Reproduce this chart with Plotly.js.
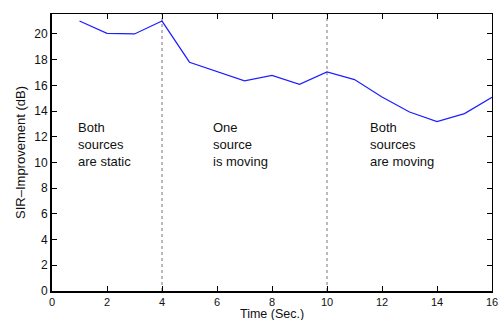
<!DOCTYPE html>
<html>
<head>
<meta charset="utf-8">
<script src="https://cdn.plot.ly/plotly-3.0.1.min.js"></script>
<style>html,body{margin:0;padding:0;background:#fff;}#chart{width:499px;height:320px;}</style>
</head>
<body>
<div id="chart"></div>
<script>
// Data
var timeSec = [1, 2, 3, 4, 5, 6, 7, 8, 9, 10, 11, 12, 13, 14, 15, 16];
var sirImprovement = [21.0, 20.05, 20.0, 21.0, 17.8, 17.1, 16.35, 16.78, 16.08, 17.05, 16.45, 15.1, 13.93, 13.18, 13.8, 15.07];
var phaseBoundaries = [4, 10];
var phaseLabels = [
  ["Both", "sources", "are static"],
  ["One", "source", "is moving"],
  ["Both", "sources", "are moving"]
];
var xTickVals = [0, 2, 4, 6, 8, 10, 12, 14, 16];
var yTickVals = [0, 2, 4, 6, 8, 10, 12, 14, 16, 18, 20];
var xTitle = "Time (Sec.)";
var yTitle = "SIR\u2013Improvement (dB)";

var FONT = "Liberation Sans, Arial, Helvetica, sans-serif";
var yMax = 21.55;

var traces = [
  {
    x: timeSec, y: sirImprovement, type: "scatter", mode: "lines",
    line: {color: "rgb(30,30,255)", width: 1.2},
    hoverinfo: "skip", showlegend: false
  },
  {
    x: [0, 16], y: [0, yMax], xaxis: "x2", yaxis: "y2", type: "scatter", mode: "markers",
    marker: {opacity: 0}, hoverinfo: "skip", showlegend: false
  }
];

var shapes = phaseBoundaries.map(function (b) {
  return {
    type: "line", xref: "x", yref: "y", x0: b, x1: b, y0: 0, y1: yMax,
    line: {color: "#777", width: 1, dash: "dot"}, layer: "below"
  };
});

var labelX = [0.86, 5.78, 11.5];
var annotations = phaseLabels.map(function (lines, i) {
  return {
    text: lines.join("<br>"), x: labelX[i], y: 11.38, xref: "x", yref: "y",
    xanchor: "left", yanchor: "middle", align: "left", showarrow: false,
    font: {family: FONT, size: 13, color: "#111"}
  };
});
annotations.push({
  text: xTitle, xref: "paper", yref: "paper", x: 0.5, y: 0,
  xanchor: "center", yanchor: "middle", yshift: -23, showarrow: false,
  borderpad: 0, font: {family: FONT, size: 12.5, color: "#111"}
});

var axisCommon = {
  showgrid: false, zeroline: false, ticks: "inside", ticklen: 5, tickwidth: 1,
  tickcolor: "#000", showline: true, linecolor: "#000",
  tickfont: {family: FONT, size: 12, color: "#111"}
};

var layout = {
  width: 499, height: 320,
  margin: {l: 52, r: 7, t: 14, b: 29},
  paper_bgcolor: "#fff", plot_bgcolor: "#fff",
  showlegend: false,
  xaxis: Object.assign({}, axisCommon, {
    range: [0, 16], tickvals: xTickVals, linewidth: 2,
    tickfont: {family: FONT, size: 11, color: "#111"}
  }),
  yaxis: Object.assign({}, axisCommon, {
    range: [0, yMax], tickvals: yTickVals, linewidth: 2,
    title: {text: yTitle, font: {family: FONT, size: 13, color: "#111"}, standoff: 6}
  }),
  xaxis2: Object.assign({}, axisCommon, {
    overlaying: "x", side: "top", range: [0, 16], tickvals: xTickVals,
    showticklabels: false, linewidth: 1
  }),
  yaxis2: Object.assign({}, axisCommon, {
    overlaying: "y", side: "right", range: [0, yMax], tickvals: yTickVals,
    showticklabels: false, linewidth: 1
  }),
  shapes: shapes,
  annotations: annotations
};

Plotly.newPlot("chart", traces, layout, {staticPlot: true, displayModeBar: false});
</script>
</body>
</html>
